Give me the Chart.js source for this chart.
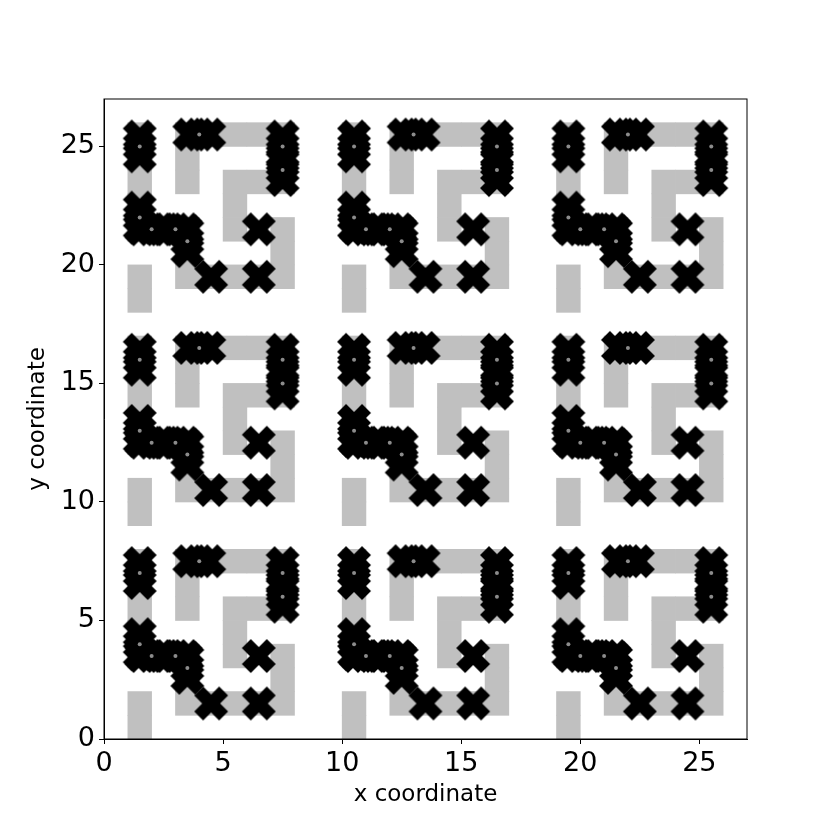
<!DOCTYPE html>
<html>
<head>
<meta charset="utf-8">
<title>Lattice maze</title>
<script src="https://cdn.jsdelivr.net/npm/chart.js@4.4.1/dist/chart.umd.min.js"></script>
<style>
  body { margin: 0; background: #fff; }
</style>
</head>
<body>
<canvas id="mazeChart" width="830" height="830"></canvas>
<script>
// the picture is one 9x9 unit cell repeated 3x3, at these offsets
var tileOffsets = [0, 9, 18];

// grey lattice cells (centres) in one unit cell
var cellX = [1.5, 1.5, 1.5, 1.5, 1.5, 1.5, 1.5, 3.5, 4.5, 5.5, 6.5, 7.5, 3.5, 3.5, 7.5, 7.5,
             5.5, 6.5, 5.5, 5.5, 2.5, 3.5, 3.5, 3.5, 4.5, 5.5, 6.5, 7.5, 7.5, 7.5];
var cellY = [0.5, 1.5, 3.5, 4.5, 5.5, 6.5, 7.5, 7.5, 7.5, 7.5, 7.5, 7.5, 5.5, 6.5, 5.5, 6.5,
             5.5, 5.5, 3.5, 4.5, 3.5, 3.5, 2.5, 1.5, 1.5, 1.5, 1.5, 1.5, 2.5, 3.5];

// black X markers in one unit cell
var markX = [1.5, 1.5, 1.5, 3.58, 4.0, 4.42, 7.5, 7.5, 7.5, 7.5, 7.5, 7.5,
             1.5, 1.5, 1.5, 1.58, 2.0, 2.42, 2.58, 3.0, 3.42, 3.5, 3.5, 3.5,
             4.5, 6.5, 6.5];
var markY = [7.42, 7.0, 6.58, 7.5, 7.5, 7.5, 7.42, 7.0, 6.58, 6.42, 6.0, 5.58,
             4.42, 4.0, 3.58, 3.5, 3.5, 3.5, 3.5, 3.5, 3.5, 3.42, 3.0, 2.58,
             1.5, 1.5, 3.5];

// small grey dots on top of some markers
var dotX = [1.5, 4.0, 7.5, 7.5, 1.5, 2.0, 3.0, 3.5];
var dotY = [7.0, 7.5, 7.0, 6.0, 4.0, 3.5, 3.5, 3.0];

var tickValues = [0, 5, 10, 15, 20, 25];
var axisMax = 27;

function tiled(xs, ys) {
  var pts = [];
  tileOffsets.forEach(function(ox) {
    tileOffsets.forEach(function(oy) {
      for (var i = 0; i < xs.length; i++) {
        pts.push({x: xs[i] + ox, y: ys[i] + oy});
      }
    });
  });
  return pts;
}

// filled X like matplotlib's 'X' marker, with its thin edge
function makeX(ms, edge) {
  var size = Math.ceil(ms + edge) + 2;
  var c = document.createElement('canvas');
  c.width = size; c.height = size;
  var g = c.getContext('2d');
  var v = [[-1,-2],[0,-1],[1,-2],[2,-1],[1,0],[2,1],[1,2],[0,1],[-1,2],[-2,1],[-1,0],[-2,-1]];
  g.translate(size / 2, size / 2);
  g.beginPath();
  v.forEach(function(p, i) {
    var px = p[0] / 4 * ms, py = p[1] / 4 * ms;
    if (i == 0) g.moveTo(px, py); else g.lineTo(px, py);
  });
  g.closePath();
  g.fillStyle = '#000';
  g.fill();
  g.lineWidth = edge;
  g.lineJoin = 'miter';
  g.strokeStyle = '#000';
  g.stroke();
  return c;
}
var xShape = makeX(32, 1.4);

function cellRadius(ctx) {
  var s = ctx.chart.scales.x;
  return (s.getPixelForValue(1) - s.getPixelForValue(0) + 0.6) / Math.SQRT2;
}

function setTicks(s) {
  s.ticks = tickValues.map(function(v) { return {value: v}; });
}

var framePlugin = {
  id: 'frame',
  afterDraw: function(chart) {
    var a = chart.chartArea, c = chart.ctx;
    c.save();
    c.strokeStyle = '#000';
    c.lineWidth = 1;
    c.strokeRect(a.left, a.top, a.right - a.left, a.bottom - a.top);
    c.restore();
  }
};

var tickFont = {family: 'DejaVu Sans', size: 27};
var titleFont = {family: 'DejaVu Sans', size: 23};

var ctx = document.getElementById('mazeChart').getContext('2d');
var mazeChart = new Chart(ctx, {
  type: 'scatter',
  data: {
    datasets: [{
      label: 'cells',
      data: tiled(cellX, cellY),
      pointStyle: 'rect',
      pointRadius: cellRadius,
      pointHoverRadius: cellRadius,
      backgroundColor: '#c0c0c0',
      borderWidth: 0,
      order: 3
    }, {
      label: 'markers',
      data: tiled(markX, markY),
      pointStyle: xShape,
      order: 2
    }, {
      label: 'dots',
      data: tiled(dotX, dotY),
      pointStyle: 'circle',
      pointRadius: 2,
      backgroundColor: '#8c8c8c',
      borderWidth: 0,
      order: 1
    }]
  },
  options: {
    responsive: false,
    devicePixelRatio: 1,
    animation: false,
    layout: { padding: {top: 99, right: 83, bottom: 0, left: 0} },
    plugins: { legend: {display: false}, tooltip: {enabled: false} },
    scales: {
      x: {
        type: 'linear', min: 0, max: axisMax,
        afterBuildTicks: setTicks,
        afterFit: function(s) { s.height = 91; },
        ticks: { font: tickFont, color: '#000', padding: 4, maxRotation: 0 },
        grid: { drawOnChartArea: false, drawTicks: true, tickLength: 5, color: '#000' },
        border: { display: true, color: '#000' },
        title: { display: true, text: 'x coordinate', font: titleFont, color: '#000', padding: {top: 0, bottom: 21} }
      },
      y: {
        type: 'linear', min: 0, max: axisMax,
        afterBuildTicks: setTicks,
        afterFit: function(s) { s.width = 104; },
        ticks: { font: tickFont, color: '#000', padding: 4 },
        grid: { drawOnChartArea: false, drawTicks: true, tickLength: 5, color: '#000' },
        border: { display: true, color: '#000' },
        title: { display: true, text: 'y coordinate', font: titleFont, color: '#000', padding: {top: 24, bottom: 0} }
      }
    }
  },
  plugins: [framePlugin]
});
</script>
</body>
</html>
